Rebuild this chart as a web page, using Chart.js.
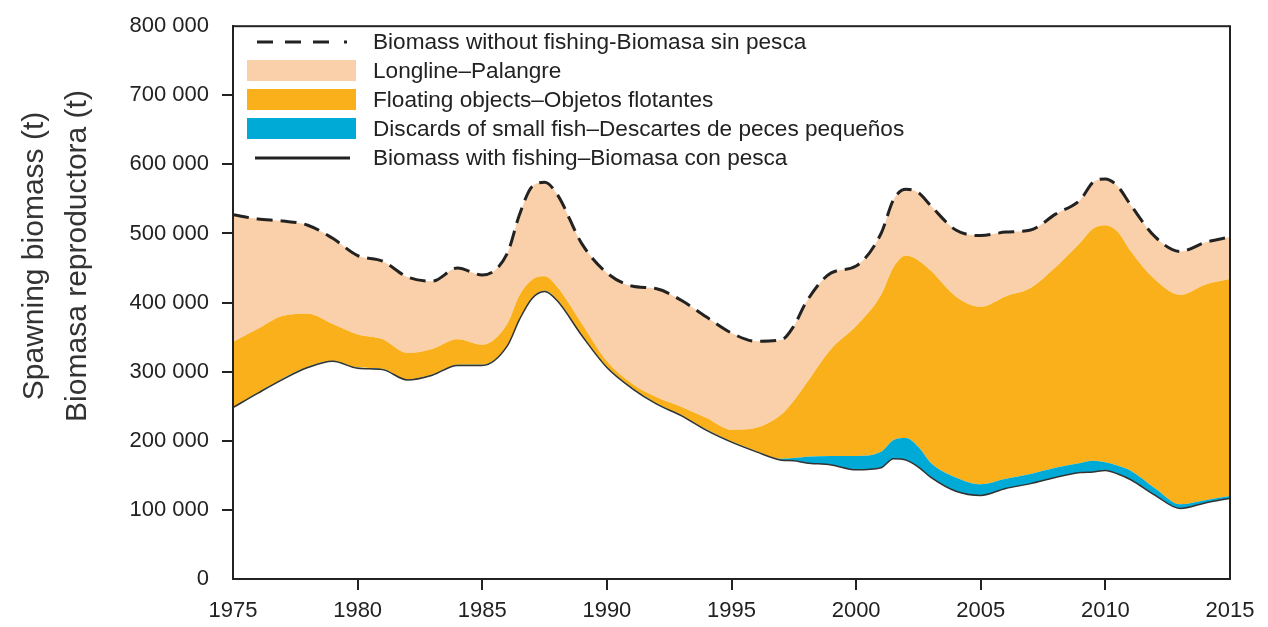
<!DOCTYPE html>
<html>
<head>
<meta charset="utf-8">
<script src="https://cdn.jsdelivr.net/npm/chart.js@4.4.1/dist/chart.umd.min.js"></script>
<style>
  html, body { margin: 0; padding: 0; background: #fff; }
  #wrap { position: relative; width: 1268px; height: 627px; font-family: "Liberation Sans", Arial, sans-serif; color: #222; }
  #ytitle { position: absolute; width: 440px; height: 86px; left: -166px; top: 213px;
            transform: rotate(-90deg); text-align: center; font-size: 30px; line-height: 43px; color: #333; }
  #legend { position: absolute; left: 247px; top: 27px; font-size: 22.6px; color: #222; }
  .item { height: 29px; display: flex; align-items: center; }
  .sym { width: 109px; height: 21px; margin-right: 17px; flex: none; }
</style>
</head>
<body>
<div id="wrap">
  <canvas id="chart" width="1268" height="627"></canvas>
  <div id="ytitle">Spawning biomass (t)<br>Biomasa reproductora (t)</div>
  <div id="legend">
    <div class="item"><svg class="sym" viewBox="0 0 109 21"><line x1="10" y1="11" x2="88" y2="11" stroke="#222" stroke-width="3" stroke-dasharray="16 12"/><rect x="97" y="9.5" width="3" height="3" fill="#222"/></svg>Biomass without fishing-Biomasa sin pesca</div>
    <div class="item"><div class="sym" style="background:#fad0aa"></div>Longline–Palangre</div>
    <div class="item"><div class="sym" style="background:#f9b01b"></div>Floating objects–Objetos flotantes</div>
    <div class="item"><div class="sym" style="background:#00aad6"></div>Discards of small fish–Descartes de peces pequeños</div>
    <div class="item"><svg class="sym" viewBox="0 0 109 21"><line x1="8" y1="11" x2="103" y2="11" stroke="#222" stroke-width="3"/></svg>Biomass with fishing–Biomasa con pesca</div>
  </div>
</div>
<script>
// years (some half years to follow the peaks)
const years = [1975, 1976, 1977, 1978, 1979, 1980, 1981, 1982, 1983, 1984, 1985, 1986, 1986.5, 1987, 1987.5, 1988,
  1989, 1990, 1991, 1992, 1993, 1994, 1995, 1996, 1997, 1997.5, 1998, 1999, 2000, 2001, 2001.5, 2002, 2002.5,
  2003, 2004, 2005, 2006, 2007, 2008, 2009, 2009.5, 2010, 2010.5, 2011, 2012, 2013, 2014, 2015];

// thousand tonnes
const withoutFishing = [527, 521, 518, 512, 493, 468, 460, 437, 431, 450, 440, 471, 528, 568, 574, 557,
  485, 443, 424, 420, 403, 379, 356, 344, 346, 366, 401, 443, 453, 500, 549, 564, 559,
  540, 505, 497, 502, 505, 528, 549, 574, 579, 568, 542, 495, 474, 487, 495];
// top of floating objects band
const floatingTop = [343, 362, 381, 384, 369, 354, 347, 327, 333, 347, 339, 369, 411, 433, 438, 423,
  369, 315, 283, 263, 249, 233, 216, 219, 238, 258, 283, 333, 366, 411, 451, 468, 461,
  446, 409, 394, 409, 421, 451, 487, 507, 512, 502, 475, 433, 411, 426, 434];
// top of discards band
const discardsTop = [249, 270, 290, 307, 316, 306, 304, 289, 296, 310, 310, 338, 377, 407, 417, 404,
  353, 307, 277, 254, 237, 216, 199, 185, 174, 175, 177, 178, 178, 184, 201, 204, 191,
  168, 147, 137, 145, 152, 161, 168, 171, 169, 164, 157, 131, 108, 114, 120];
const withFishing = [248, 269, 289, 306, 315, 305, 303, 288, 295, 309, 309, 337, 376, 406, 416, 403,
  352, 306, 276, 253, 236, 215, 198, 184, 172, 171, 168, 165, 158, 161, 174, 172, 162,
  147, 127, 121, 131, 138, 147, 154, 155, 157, 152, 144, 121, 102, 110, 117];

const yTicks = [0, 100000, 200000, 300000, 400000, 500000, 600000, 700000, 800000];
const xTicks = [1975, 1980, 1985, 1990, 1995, 2000, 2005, 2010, 2015];

function pts(arr) {
    return years.map((y, i) => ({ x: y, y: arr[i] * 1000 }));
}

const frame = {
    id: 'frame',
    afterDraw(chart) {
        const a = chart.chartArea, c = chart.ctx;
        c.save();
        c.strokeStyle = '#222';
        c.lineWidth = 2;
        c.strokeRect(a.left, a.top, a.right - a.left, a.bottom - a.top);
        c.restore();
    }
};

const tickCol = (ctx) => (ctx.index === 0 || ctx.index === 8) ? 'rgba(0,0,0,0)' : '#222';

new Chart('chart', {
    type: 'line',
    data: {
        datasets: [{
            data: pts(withFishing),
            borderColor: '#333',
            borderWidth: 1.5,
            fill: false
        },
        {
            data: pts(discardsTop),
            borderWidth: 0,
            borderColor: 'rgba(0,0,0,0)',
            backgroundColor: '#00aad6',
            fill: '-1'
        },
        {
            data: pts(floatingTop),
            borderWidth: 0,
            borderColor: 'rgba(0,0,0,0)',
            backgroundColor: '#f9b01b',
            fill: '-1'
        },
        {
            data: pts(withoutFishing),
            borderColor: '#222',
            borderWidth: 3,
            borderDash: [16, 8],
            backgroundColor: '#fad0aa',
            fill: '-1'
        }]
    },
    options: {
        responsive: false,
        animation: false,
        layout: { padding: { top: 17, right: 38, left: 0, bottom: 0 } },
        elements: {
            point: { radius: 0 },
            line: { cubicInterpolationMode: 'monotone' }
        },
        plugins: {
            legend: { display: false },
            tooltip: { enabled: false }
        },
        scales: {
            x: {
                type: 'linear',
                min: 1975, max: 2015,
                afterFit: (s) => { s.height = 48; },
                afterBuildTicks: (s) => { s.ticks = xTicks.map(v => ({ value: v })); },
                ticks: {
                    callback: (v) => String(v),
                    font: { family: 'Liberation Sans', size: 22 },
                    color: '#222',
                    padding: 8,
                    maxRotation: 0
                },
                grid: { drawOnChartArea: false, tickLength: 11, lineWidth: 2, color: tickCol, tickColor: tickCol },
                border: { color: '#222', width: 2 }
            },
            y: {
                min: 0, max: 800000,
                afterFit: (s) => { s.width = 233; },
                afterBuildTicks: (s) => { s.ticks = yTicks.map(v => ({ value: v })); },
                ticks: {
                    callback: (v) => v === 0 ? '0' : (v / 1000) + ' 000',
                    font: { family: 'Liberation Sans', size: 22 },
                    color: '#222',
                    padding: 13
                },
                grid: { drawOnChartArea: false, tickLength: 11, lineWidth: 2, color: tickCol, tickColor: tickCol },
                border: { color: '#222', width: 2 }
            }
        }
    },
    plugins: [frame]
});
</script>
</body>
</html>
